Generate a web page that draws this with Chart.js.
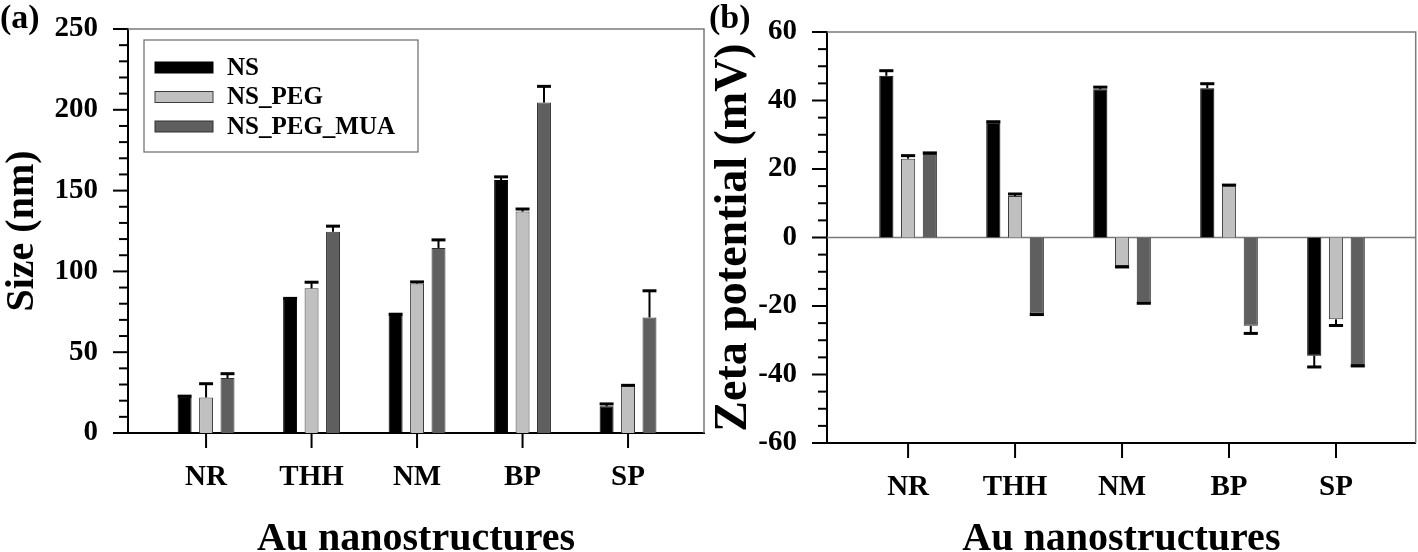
<!DOCTYPE html>
<html><head><meta charset="utf-8">
<script src="https://cdn.jsdelivr.net/npm/chart.js@4.4.0/dist/chart.umd.min.js"></script>
<style>
html,body{margin:0;padding:0;background:#fff;}
#wrap{position:relative;width:1418px;height:552px;overflow:hidden;}
canvas{position:absolute;top:0;}
#ca{left:0}
#cb{left:709px}
</style></head><body>
<div id="wrap"><canvas id="ca" width="709" height="552"></canvas><canvas id="cb" width="709" height="552"></canvas></div>
<script>
const categories = ['NR', 'THH', 'NM', 'BP', 'SP'];
const seriesNames = ['NS', 'NS_PEG', 'NS_PEG_MUA'];

// (a) Size (nm)
const sizeNS     = [22.5, 83, 73, 156.5, 16.5];
const sizeNSErr  = [0.3, 0.3, 0.5, 2, 1.5];
const sizePEG    = [22, 89.5, 92.5, 137, 29];
const sizePEGErr = [8.5, 3.8, 1, 1.6, 0.5];
const sizeMUA    = [34, 124.5, 114.5, 204.5, 71.5];
const sizeMUAErr = [2.7, 3.5, 5, 10, 16.5];

// (b) Zeta potential (mV)
const zetaNS     = [47.2, 33.6, 43.3, 43.6, -34.5];
const zetaNSErr  = [1.5, 0.2, 0.6, 1.3, 3.3];
const zetaPEG    = [23, 12.1, -8.3, 15, -23.9];
const zetaPEGErr = [0.9, 0.6, 0.3, 0.3, 1.8];
const zetaMUA    = [24.4, -22.2, -19, -25.8, -37.2];
const zetaMUAErr = [0.3, 0.3, 0.2, 2.2, 0.3];

const sizeMajorTicks = [0, 50, 100, 150, 200, 250];
const zetaMajorTicks = [-60, -40, -20, 0, 20, 40, 60];

const fills   = ['#000000', '#c0c0c0', '#5f5f5f'];
const borders = ['#000000', '#3c3c3c', '#303030'];
const FONT = "'Liberation Serif','Times New Roman',serif";

Chart.defaults.font.family = FONT;
Chart.defaults.font.weight = 'bold';
Chart.defaults.color = '#000';

function makeDatasets(vals, errs) {
  return seriesNames.map((n, k) => ({
    label: n,
    data: categories.map((c, i) => ({ x: i + 1, y: vals[k][i] })),
    errors: errs[k],
    backgroundColor: fills[k],
    borderColor: borders[k],
    borderWidth: 1,
    categoryPercentage: 0.61,
    barPercentage: 0.65
  }));
}

const decorPlugin = {
  id: 'decor',
  beforeDatasetsDraw(chart, args, opts) {
    const { ctx, chartArea: a, scales: { y } } = chart;
    if (opts.zero) {
      const y0 = y.getPixelForValue(0);
      ctx.save();
      ctx.strokeStyle = '#7a7a7a'; ctx.lineWidth = 1.5;
      ctx.beginPath(); ctx.moveTo(a.left, y0); ctx.lineTo(a.right, y0); ctx.stroke();
      ctx.restore();
    }
  },
  afterDraw(chart, args, opts) {
    const { ctx, chartArea: a, scales: { x, y } } = chart;
    ctx.save();
    ctx.strokeStyle = '#7a7a7a'; ctx.lineWidth = 1.5;
    ctx.beginPath(); ctx.moveTo(a.left, a.top); ctx.lineTo(a.right, a.top); ctx.lineTo(a.right, a.bottom); ctx.stroke();
    ctx.strokeStyle = '#000'; ctx.lineWidth = 2;
    y.ticks.forEach(t => {
      const p = y.getPixelForValue(t.value);
      const len = opts.majors.includes(t.value) ? 15 : 9;
      ctx.beginPath(); ctx.moveTo(a.left - len, p); ctx.lineTo(a.left, p); ctx.stroke();
    });
    x.ticks.forEach(t => {
      const p = x.getPixelForValue(t.value);
      ctx.beginPath(); ctx.moveTo(p, a.bottom); ctx.lineTo(p, a.bottom + 15); ctx.stroke();
    });
    ctx.restore();
  }
};

const errorPlugin = {
  id: 'errbars',
  afterDatasetsDraw(chart) {
    const { ctx, scales: { y } } = chart;
    ctx.save(); ctx.strokeStyle = '#000';
    chart.data.datasets.forEach((ds, di) => {
      const meta = chart.getDatasetMeta(di);
      meta.data.forEach((el, i) => {
        const v = ds.data[i].y, e = ds.errors[i];
        if (!e) return;
        const s = v >= 0 ? 1 : -1;
        const yEnd = y.getPixelForValue(v + s * e);
        const yBar = y.getPixelForValue(v);
        const hw = el.width / 2;
        ctx.lineWidth = 2;
        ctx.beginPath(); ctx.moveTo(el.x, yBar); ctx.lineTo(el.x, yEnd); ctx.stroke();
        ctx.lineWidth = 3;
        ctx.beginPath(); ctx.moveTo(el.x - hw, yEnd); ctx.lineTo(el.x + hw, yEnd); ctx.stroke();
      });
    });
    ctx.restore();
  }
};

const legendPlugin = {
  id: 'boxlegend',
  afterDraw(chart, args, opts) {
    if (!opts.show) return;
    const { ctx, chartArea: a } = chart;
    const x0 = a.left + 16, y0 = a.top + 11, w = 274, h = 112;
    ctx.save();
    ctx.strokeStyle = '#6a6a6a'; ctx.lineWidth = 1.2; ctx.strokeRect(x0, y0, w, h);
    ctx.font = 'bold 25px ' + FONT; ctx.textBaseline = 'middle';
    chart.data.datasets.forEach((ds, k) => {
      const cy = y0 + 27.5 + k * 29.5;
      ctx.fillStyle = ds.backgroundColor; ctx.fillRect(x0 + 11, cy - 5.5, 58, 11);
      ctx.strokeStyle = ds.borderColor; ctx.lineWidth = 1; ctx.strokeRect(x0 + 11, cy - 5.5, 58, 11);
      ctx.fillStyle = '#000'; ctx.fillText(ds.label, x0 + 83, cy + 1);
    });
    ctx.restore();
  }
};

function buildChart(id, o) {
  return new Chart(document.getElementById(id), {
    type: 'bar',
    data: { datasets: makeDatasets(o.vals, o.errs) },
    options: {
      responsive: false, animation: false, devicePixelRatio: 1,
      layout: { padding: { left: 0, right: o.padRight, top: 0, bottom: 0 } },
      plugins: {
        legend: { display: false }, tooltip: { enabled: false },
        title: { display: true, text: o.panel, align: 'start', color: '#000',
          font: { size: 34, weight: 'bold', lineHeight: 0.85 },
          padding: { top: 4.5, bottom: o.titlePadBottom } },
        decor: { majors: o.majors, zero: o.zero },
        boxlegend: { show: o.legend }
      },
      scales: {
        x: {
          type: 'linear', min: o.xMin, max: o.xMax, offset: false, bounds: 'data',
          grid: { display: false, drawTicks: true, tickLength: 27 },
          border: { display: true, color: '#000', width: 2 },
          afterBuildTicks: (s) => { s.ticks = categories.map((c, i) => ({ value: i + 1 })); },
          afterFit: (s) => { s.height = o.xHeight; },
          ticks: { autoSkip: false, maxRotation: 0, padding: 0, color: '#000',
            font: { size: 29, weight: 'bold' },
            callback: (v) => categories[Math.round(v) - 1] },
          title: { display: true, text: 'Au nanostructures', color: '#000', padding: 0,
            font: { size: 40, weight: 'bold', lineHeight: 0.6 } }
        },
        y: {
          type: 'linear', min: o.yMin, max: o.yMax,
          grid: { display: false, drawTicks: true, tickLength: 30 },
          border: { display: true, color: '#000', width: 2 },
          afterFit: (s) => { s.width = o.yWidth; },
          ticks: { stepSize: o.minorStep, autoSkip: false, padding: 0, color: '#000',
            font: { size: 29, weight: 'bold' },
            callback: (v) => o.majors.includes(v) ? String(v) : '' },
          title: { display: true, text: o.yTitle, color: '#000', padding: 0,
            font: { size: o.yTitleSize, weight: 'bold', lineHeight: o.yTitleLH } }
        }
      }
    },
    plugins: [decorPlugin, errorPlugin, legendPlugin]
  });
}

buildChart('ca', {
  vals: [sizeNS, sizePEG, sizeMUA], errs: [sizeNSErr, sizePEGErr, sizeMUAErr],
  panel: '(a)', titlePadBottom: -4.4, padRight: 5,
  xMin: 0.26, xMax: 5.72, xHeight: 119,
  yMin: 0, yMax: 250, minorStep: 10, majors: sizeMajorTicks, yWidth: 128,
  yTitle: 'Size (nm)', yTitleSize: 40, yTitleLH: 1.15,
  zero: false, legend: true
});

buildChart('cb', {
  vals: [zetaNS, zetaPEG, zetaMUA], errs: [zetaNSErr, zetaPEGErr, zetaMUAErr],
  panel: '(b)', titlePadBottom: -1.4, padRight: 2.3,
  xMin: 0.242, xMax: 5.745, xHeight: 109,
  yMin: -60, yMax: 60, minorStep: 5, majors: zetaMajorTicks, yWidth: 118,
  yTitle: 'Zeta potential (mV)', yTitleSize: 46, yTitleLH: 1.09,
  zero: true, legend: false
});
</script>
</body></html>
